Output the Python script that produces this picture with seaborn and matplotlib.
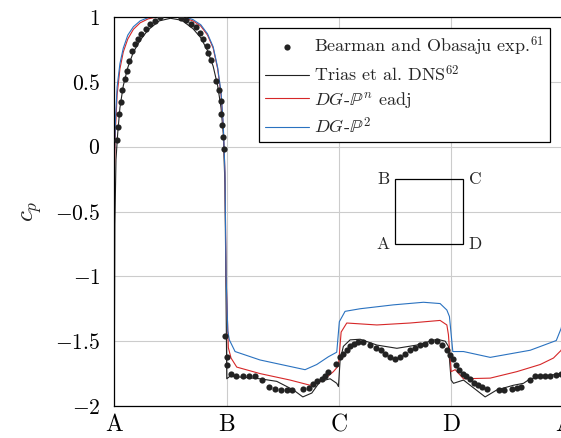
import numpy as np
import pandas as pd
import matplotlib
matplotlib.use('Agg')
import matplotlib.pyplot as plt
from matplotlib.patches import Rectangle
from matplotlib.ticker import FuncFormatter
import seaborn as sns

# perimeter coordinate: A=0, B=1, C=2, D=3, A=4
exp_x = [0.027, 0.036, 0.045, 0.057, 0.071, 0.093, 0.110, 0.134, 0.155, 0.184,
         0.208, 0.238, 0.280, 0.318, 0.362, 0.407, 0.594, 0.638, 0.680, 0.725,
         0.763, 0.793, 0.823, 0.837, 0.861, 0.906, 0.932, 0.947, 0.953, 0.962,
         0.968, 0.974, 0.988, 1.001, 1.001, 1.039, 1.084, 1.149, 1.202, 1.253,
         1.313, 1.380, 1.431, 1.482, 1.535, 1.580, 1.683, 1.734, 1.772, 1.808,
         1.847, 1.876, 1.906, 1.974, 2.010, 2.034, 2.069, 2.099, 2.134, 2.173,
         2.217, 2.277, 2.328, 2.372, 2.411, 2.455, 2.500, 2.544, 2.589, 2.633,
         2.678, 2.722, 2.767, 2.820, 2.876, 2.921, 2.960, 2.989, 3.013, 3.043,
         3.072, 3.102, 3.132, 3.167, 3.203, 3.236, 3.272, 3.321, 3.426, 3.470,
         3.539, 3.583, 3.622, 3.702, 3.747, 3.791, 3.836, 3.880, 3.934, 3.975]
exp_cp = [0.05, 0.154, 0.25, 0.345, 0.44, 0.52, 0.58, 0.66, 0.74, 0.79,
          0.83, 0.87, 0.91, 0.946, 0.97, 0.998, 0.99, 0.98, 0.946, 0.92,
          0.88, 0.83, 0.78, 0.725, 0.67, 0.51, 0.44, 0.35, 0.25, 0.17,
          0.075, -0.02, -1.46, -1.62, -1.68, -1.75, -1.77, -1.77, -1.77, -1.77,
          -1.80, -1.855, -1.87, -1.876, -1.88, -1.88, -1.87, -1.86, -1.83, -1.81,
          -1.79, -1.77, -1.74, -1.675, -1.62, -1.60, -1.57, -1.54, -1.52, -1.51,
          -1.51, -1.53, -1.55, -1.57, -1.60, -1.62, -1.64, -1.62, -1.60, -1.57,
          -1.55, -1.53, -1.52, -1.50, -1.50, -1.53, -1.57, -1.61, -1.64, -1.68,
          -1.72, -1.75, -1.77, -1.79, -1.82, -1.84, -1.855, -1.87, -1.88, -1.88,
          -1.87, -1.86, -1.855, -1.80, -1.77, -1.77, -1.77, -1.77, -1.76, -1.75]

dns_x = [0.0, 0.005, 0.015, 0.03, 0.05, 0.08, 0.12, 0.17, 0.23, 0.30, 0.40, 0.50,
         0.60, 0.70, 0.77, 0.83, 0.88, 0.92, 0.95, 0.97, 0.985, 0.995, 1.001,
         1.030, 1.297, 1.446, 1.594, 1.678, 1.758, 1.832, 1.921, 1.980, 1.995,
         2.010, 2.039, 2.099, 2.188, 2.337, 2.515, 2.693, 2.871, 2.945, 2.974,
         2.998, 3.019, 3.108, 3.197, 3.301, 3.405, 3.553, 3.642, 3.702, 3.969, 4.0]
dns_cp = [-1.75, -0.6, -0.1, 0.10, 0.30, 0.47, 0.61, 0.73, 0.82, 0.90, 0.97, 0.99,
          0.975, 0.91, 0.84, 0.74, 0.62, 0.47, 0.30, 0.10, -0.3, -1.2, -1.79,
          -1.77, -1.79, -1.81, -1.876, -1.93, -1.90, -1.81, -1.79, -1.825, -1.85,
          -1.645, -1.54, -1.49, -1.485, -1.53, -1.555, -1.53, -1.485, -1.50, -1.54,
          -1.80, -1.825, -1.80, -1.86, -1.93, -1.876, -1.84, -1.825, -1.79, -1.75, -1.75]

eadj_x = [0.0, 0.01, 0.025, 0.05, 0.08, 0.12, 0.17, 0.23, 0.30, 0.40, 0.50, 0.60,
          0.70, 0.77, 0.83, 0.88, 0.92, 0.95, 0.97, 0.985, 0.995, 1.015, 1.039,
          1.090, 1.297, 1.565, 1.743, 1.861, 1.950, 1.995, 2.019, 2.069, 2.337,
          2.633, 2.900, 2.960, 2.974, 2.998, 3.034, 3.108, 3.346, 3.583, 3.791,
          3.909, 3.978, 4.0]
eadj_cp = [-0.2, 0.12, 0.40, 0.60, 0.73, 0.83, 0.905, 0.955, 0.985, 1.005, 1.01, 1.0,
           0.97, 0.93, 0.86, 0.76, 0.60, 0.40, 0.15, -0.2, -1.0, -1.55, -1.63,
           -1.70, -1.75, -1.80, -1.84, -1.80, -1.735, -1.69, -1.43, -1.36, -1.375,
           -1.36, -1.34, -1.375, -1.45, -1.735, -1.72, -1.79, -1.785, -1.735, -1.68,
           -1.63, -1.57, -1.5]

p2_x = [0.0, 0.01, 0.025, 0.05, 0.08, 0.12, 0.17, 0.23, 0.30, 0.40, 0.50, 0.60,
        0.70, 0.77, 0.83, 0.88, 0.92, 0.95, 0.97, 0.985, 0.995, 1.01, 1.024,
        1.075, 1.297, 1.698, 1.802, 1.906, 1.980, 2.003, 2.054, 2.188, 2.484,
        2.752, 2.900, 2.960, 2.983, 3.013, 3.108, 3.346, 3.702, 3.934, 3.978, 4.0]
p2_cp = [-0.1, 0.2, 0.46, 0.64, 0.76, 0.86, 0.925, 0.97, 0.995, 1.015, 1.02, 1.01,
         0.98, 0.94, 0.87, 0.77, 0.61, 0.42, 0.17, -0.2, -1.0, -1.42, -1.49,
         -1.58, -1.645, -1.72, -1.68, -1.62, -1.585, -1.35, -1.27, -1.25, -1.22,
         -1.20, -1.21, -1.26, -1.31, -1.58, -1.58, -1.625, -1.57, -1.495, -1.40, -1.3]

tick_pos = [0, 1, 2, 3, 4]
tick_lab = ['A', 'B', 'C', 'D', 'A']

sns.set_style('white')
plt.rcParams['font.family'] = 'serif'
plt.rcParams['font.serif'] = ['cmr10']
plt.rcParams['mathtext.fontset'] = 'cm'
plt.rcParams['axes.unicode_minus'] = False
plt.rcParams['axes.formatter.use_mathtext'] = True

fig = plt.figure(figsize=(5.61, 4.38), dpi=100)
ax = fig.add_axes([114.3 / 561, 1 - 406 / 438, 449.4 / 561, 389 / 438])

sns.lineplot(x=dns_x, y=dns_cp, ax=ax, color='#222222', lw=0.8, sort=False,
             estimator=None, label=r'Trias et al. DNS$^{62}$')
sns.lineplot(x=eadj_x, y=eadj_cp, ax=ax, color='#d62728', lw=0.8, sort=False,
             estimator=None, label=r'$DG$-$\mathbb{P}^n$ eadj')
sns.lineplot(x=p2_x, y=p2_cp, ax=ax, color='#2a72c0', lw=0.8, sort=False,
             estimator=None, label=r'$DG$-$\mathbb{P}^2$')
sns.scatterplot(x=exp_x, y=exp_cp, ax=ax, color='#222222', s=20, linewidth=0,
                label=r'Bearman and Obasaju exp.$^{61}$', zorder=5)

ax.set_xlim(0, 4)
ax.set_ylim(-2, 1)
ax.set_xticks(tick_pos)
ax.set_xticklabels(tick_lab)
ax.set_yticks(np.arange(-2, 1.01, 0.5))
ax.yaxis.set_major_formatter(FuncFormatter(lambda v, p: '$%g$' % v))
ax.tick_params(direction='inout', width=0.8, colors='black')
ax.tick_params(axis='y', labelsize=15.5, pad=6, length=8)
ax.tick_params(axis='x', labelsize=17, pad=3, length=6)
ax.grid(True, color='#cccccc', lw=0.8)
for s in ax.spines.values():
    s.set_color('black')
    s.set_linewidth(0.9)
ax.set_xlabel('')
ax.set_ylabel(r'$c_p$', fontsize=18, labelpad=8)

# legend: experiment first
h, l = ax.get_legend_handles_labels()
order = [3, 0, 1, 2]
leg = ax.legend([h[i] for i in order], [l[i] for i in order], loc='upper right',
                bbox_to_anchor=(0.97, 0.972), fontsize=13, frameon=True,
                fancybox=False, edgecolor='black', framealpha=1,
                handlelength=2.4, handletextpad=0.3, borderpad=0.35,
                labelspacing=0.32, borderaxespad=0)
leg.get_frame().set_linewidth(0.9)

# inset square sketch
ax.add_patch(Rectangle((0.6246, 0.4165), 0.1513, 0.167, transform=ax.transAxes,
                       fill=False, edgecolor='black', lw=0.9, zorder=6))
for lab, xx, yy, ha in [('B', 0.612, 0.5835, 'right'), ('C', 0.789, 0.5835, 'left'),
                        ('A', 0.612, 0.4165, 'right'), ('D', 0.789, 0.4165, 'left')]:
    ax.text(xx, yy, lab, transform=ax.transAxes, ha=ha, va='center', fontsize=12.5)

fig.savefig('out.png', dpi=100)
